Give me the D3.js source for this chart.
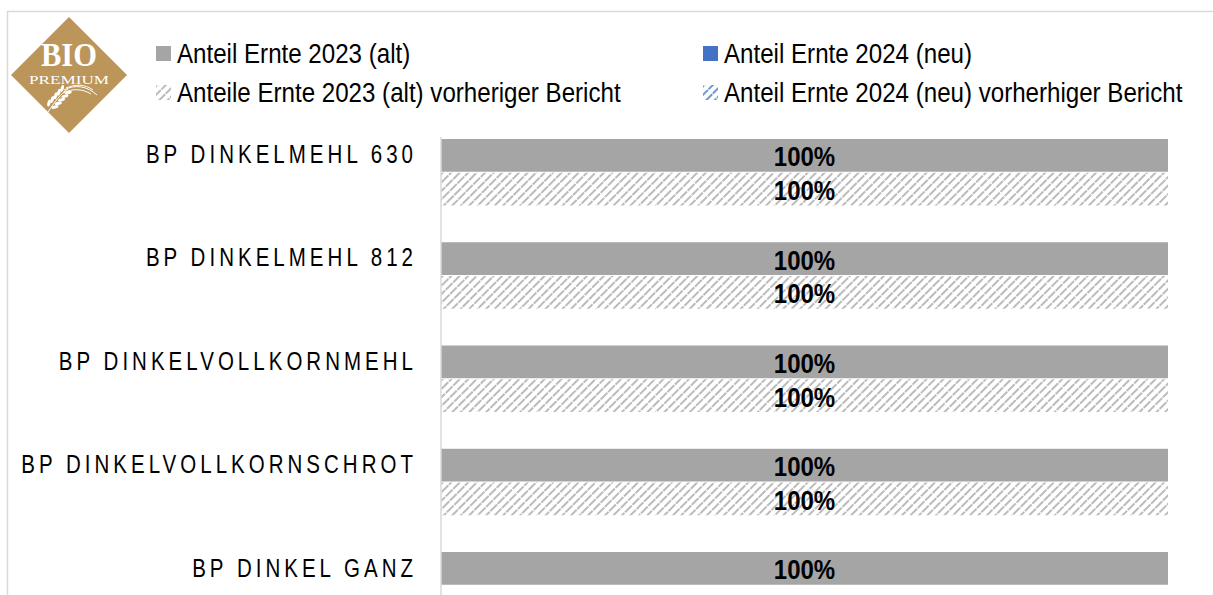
<!DOCTYPE html>
<html>
<head>
<meta charset="utf-8">
<script src="https://cdn.jsdelivr.net/npm/d3@7"></script>
<style>
  html, body { margin: 0; padding: 0; background: #fff; overflow: hidden; }
  text { font-family: "Liberation Sans", sans-serif; }
</style>
</head>
<body>
<div id="chart"></div>
<script>
const categories = ["BP DINKELMEHL 630", "BP DINKELMEHL 812", "BP DINKELVOLLKORNMEHL", "BP DINKELVOLLKORNSCHROT", "BP DINKEL GANZ"];
const seriesKeys = ["current", "previous"];
const alt2023 = [100, 100, 100, 100, 100];
const alt2023Prev = [100, 100, 100, 100, null];
const neu2024 = [0, 0, 0, 0, 0];
const neu2024Prev = [0, 0, 0, 0, null];
const legendLabels = ["Anteil Ernte 2023 (alt)", "Anteil Ernte 2024 (neu)", "Anteile Ernte 2023 (alt) vorheriger Bericht", "Anteil Ernte 2024 (neu) vorherhiger Bericht"];

const width = 1213, height = 595;
const grey = "#a5a5a5", blue = "#4472c4";

const svg = d3.select("#chart").append("svg")
    .attr("width", width)
    .attr("height", height)
    .style("display", "block");

// hatch fills
const defs = svg.append("defs");
function hatch(id, color) {
  const p = defs.append("pattern")
      .attr("id", id)
      .attr("width", 6)
      .attr("height", 10.5)
      .attr("patternUnits", "userSpaceOnUse")
      .attr("patternTransform", "rotate(45)");
  p.append("rect").attr("width", 6).attr("height", 10.5).attr("fill", "#fff");
  p.append("line")
      .attr("x1", 1).attr("x2", 1).attr("y1", 0).attr("y2", 10.5)
      .attr("stroke", color).attr("stroke-width", 1.5).attr("stroke-dasharray", "9.5 1");
}
hatch("hatchGrey", grey);
hatch("hatchBlue", blue);

// frame, cut off at the right and bottom
svg.append("path")
    .attr("d", "M7.5," + height + "V11.5H" + width)
    .attr("fill", "none")
    .attr("stroke", "#d9d9d9")
    .attr("stroke-width", 1.5);

const x = d3.scaleLinear().domain([0, 100]).range([441, 1168]);
const y = d3.scaleBand().domain(categories).range([139, 618]).paddingInner(0.361).paddingOuter(0);
const yInner = d3.scaleBand().domain(seriesKeys).range([0, y.bandwidth() + 0.5]).paddingInner(0.03);

const rows = categories.map((c, i) => ({
  category: c,
  bars: [
    {key: "current", old: alt2023[i], neu: neu2024[i], oldFill: grey, neuFill: blue},
    {key: "previous", old: alt2023Prev[i], neu: neu2024Prev[i], oldFill: "url(#hatchGrey)", neuFill: "url(#hatchBlue)"}
  ].filter(b => b.old !== null)
}));

const groups = svg.selectAll(".group")
  .data(rows)
  .enter().append("g")
    .attr("class", "group")
    .attr("transform", d => "translate(0," + y(d.category) + ")");

const bars = groups.selectAll(".bar")
  .data(d => d.bars)
  .enter().append("g")
    .attr("class", "bar")
    .attr("transform", d => "translate(0," + yInner(d.key) + ")");

bars.append("rect")
    .attr("x", x(0))
    .attr("width", d => x(d.old) - x(0))
    .attr("height", yInner.bandwidth())
    .attr("fill", d => d.oldFill);

bars.append("rect")
    .attr("x", d => x(d.old))
    .attr("width", d => x(d.old + d.neu) - x(d.old))
    .attr("height", yInner.bandwidth())
    .attr("fill", d => d.neuFill);

// Arial Narrow look: taller type squeezed horizontally
bars.append("text")
    .attr("transform", d => "translate(" + x(d.old / 2) + "," + (yInner.bandwidth() / 2 + 11) + ") scale(0.89,1)")
    .attr("text-anchor", "middle")
    .attr("font-size", 27)
    .attr("font-weight", "bold")
    .attr("fill", "#000")
    .text(d => d.old + "%");

// category axis
const labelScale = 0.82;
const axis = svg.append("g")
    .attr("transform", "translate(" + x(0) + ",0)")
    .call(d3.axisLeft(d3.scalePoint().domain(categories).range([y(categories[0]) + 15.5, y(categories[4]) + 16])).tickSize(0).tickPadding(27));
axis.select(".domain").remove();
axis.selectAll("text")
    .style("font-family", '"Liberation Sans", sans-serif')
    .attr("font-size", 25)
    .attr("letter-spacing", 4.9)
    .attr("fill", "#000")
    .attr("x", -24 / labelScale)
    .attr("transform", "scale(" + labelScale + ",1)");

svg.append("line")
    .attr("x1", x(0)).attr("x2", x(0))
    .attr("y1", 137).attr("y2", height)
    .attr("stroke", "#d9d9d9")
    .attr("stroke-width", 1.5);

// legend
const legendX = [156, 703];
const legendY = [46, 85];
const legendFill = [grey, blue, "url(#hatchGrey)", "url(#hatchBlue)"];
const legend = svg.selectAll(".legend")
  .data(legendLabels)
  .enter().append("g")
    .attr("class", "legend")
    .attr("transform", (d, i) => "translate(" + legendX[i % 2] + "," + legendY[Math.floor(i / 2)] + ")");
legend.append("rect")
    .attr("width", 15)
    .attr("height", 15)
    .attr("fill", (d, i) => legendFill[i]);
legend.append("text")
    .attr("transform", "translate(21,17) scale(0.877,1)")
    .attr("font-size", 27.5)
    .attr("fill", "#000")
    .text(d => d);

// logo
const logo = svg.append("g").attr("transform", "translate(69,75)");
logo.append("path").attr("d", "M0,-58L58,0L0,58L-58,0Z").attr("fill", "#bb9559");
logo.append("text")
    .attr("y", -9)
    .attr("text-anchor", "middle")
    .attr("font-size", 33)
    .attr("font-weight", "bold")
    .attr("textLength", 56)
    .attr("lengthAdjust", "spacingAndGlyphs")
    .style("font-family", '"Liberation Serif", serif')
    .attr("fill", "#fff")
    .text("BIO");
logo.append("text")
    .attr("y", 9)
    .attr("text-anchor", "middle")
    .attr("font-size", 12)
    .attr("textLength", 80)
    .attr("lengthAdjust", "spacingAndGlyphs")
    .style("font-family", '"Liberation Serif", serif')
    .attr("fill", "#fff")
    .text("PREMIUM");
// wheat ear
logo.append("path")
    .attr("d", "M-21,37C-15,28 -8,18 -1,14")
    .attr("fill", "none").attr("stroke", "#fff").attr("stroke-width", 1);
logo.selectAll(".awn")
  .data(["M-5,15C6,9 18,11 28,20", "M-3,13C6,9 16,9 24,15", "M-6,18C4,13 14,14 22,19"])
  .enter().append("path")
    .attr("class", "awn")
    .attr("d", d => d)
    .attr("fill", "none").attr("stroke", "#fff").attr("stroke-width", 1);
const grainPos = [0, 1, 2, 3, 4];
logo.selectAll(".grainL")
  .data(grainPos)
  .enter().append("ellipse")
    .attr("class", "grainL")
    .attr("rx", 3.6).attr("ry", 1.6)
    .attr("transform", d => "translate(" + (-20 + d * 3.3) + "," + (28 - d * 3.6) + ") rotate(-75)")
    .attr("fill", "#fff");
logo.selectAll(".grainR")
  .data(grainPos)
  .enter().append("ellipse")
    .attr("class", "grainR")
    .attr("rx", 3.6).attr("ry", 1.6)
    .attr("transform", d => "translate(" + (-14 + d * 3.3) + "," + (32 - d * 3.6) + ") rotate(-15)")
    .attr("fill", "#fff");
</script>
</body>
</html>
